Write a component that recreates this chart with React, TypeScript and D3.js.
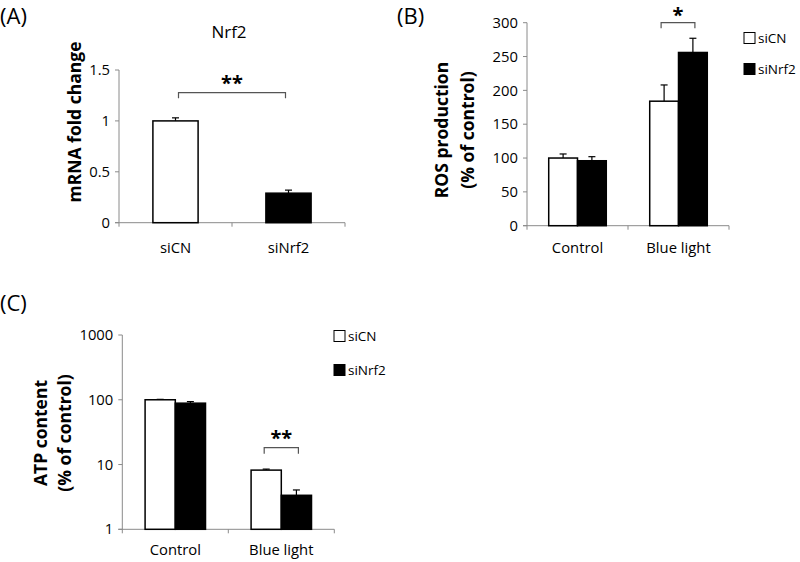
import React from 'react';
import * as d3 from 'd3';

// Panel A data
const A_categories = ['siCN', 'siNrf2'];
const A_values = [1.0, 0.29];
const A_errors = [0.03, 0.03];
const A_ticks = [0, 0.5, 1, 1.5];

// Panel B data
const B_groups = ['Control', 'Blue light'];
const B_series = ['siCN', 'siNrf2'];
const B_siCN = [100, 184];
const B_siNrf2 = [96, 256];
const B_siCN_err = [6, 24];
const B_siNrf2_err = [6, 21];
const B_ticks = [0, 50, 100, 150, 200, 250, 300];

// Panel C data
const C_groups = ['Control', 'Blue light'];
const C_siCN = [100, 8.2];
const C_siNrf2 = [88.6, 3.35];
const C_siCN_err = [1.5, 0.3];
const C_siNrf2_err = [5, 0.7];
const C_ticks = [1, 10, 100, 1000];

const FONT = '"Open Sans", "Noto Sans", sans-serif';
const AXIS = '#8a8a8a';
const fills = ['#ffffff', '#000000'];
const TICK_FS = 14.8;
const CAT_FS = 14.8;
const TITLE_FS = 17.5;

type Bar = { x: number; w: number; v: number; e: number; fill: string };

function Axes({ x0, x1, y, ticks, nCats }: any) {
  const yb = y.range()[0];
  const yt = y.range()[1];
  const step = (x1 - x0) / nCats;
  const cat = d3.range(nCats + 1).map((i) => x0 + i * step);
  return (
    <g>
      <line x1={x0} x2={x0} y1={yb} y2={yt} stroke={AXIS} strokeWidth={1} />
      <line x1={x0 - 4} x2={x1} y1={yb} y2={yb} stroke={AXIS} strokeWidth={1} />
      {ticks.map((t: number, i: number) => (
        <g key={i}>
          <line x1={x0 - 4} x2={x0} y1={y(t)} y2={y(t)} stroke={AXIS} strokeWidth={1} />
          <text x={x0 - 9} y={y(t)} dy="0.35em" textAnchor="end" fontSize={TICK_FS} fontFamily={FONT} fill="#000">
            {t}
          </text>
        </g>
      ))}
      {cat.map((cx, i) => (
        <line key={i} x1={cx} x2={cx} y1={yb} y2={yb + 4} stroke={AXIS} strokeWidth={1} />
      ))}
    </g>
  );
}

function Bars({ bars, y }: { bars: Bar[]; y: any }) {
  const yb = y.range()[0];
  return (
    <g>
      {bars.map((b, i) => {
        const cx = b.x + b.w / 2;
        return (
          <g key={i}>
            <line x1={cx} x2={cx} y1={y(b.v)} y2={y(b.v + b.e)} stroke="#000" strokeWidth={1.2} />
            <line x1={cx - 3.5} x2={cx + 3.5} y1={y(b.v + b.e)} y2={y(b.v + b.e)} stroke="#000" strokeWidth={1.2} />
            <rect x={b.x} y={y(b.v)} width={b.w} height={yb - y(b.v)} fill={b.fill} stroke="#000" strokeWidth={1.5} />
          </g>
        );
      })}
    </g>
  );
}

function Bracket({ xa, xb, yTop, legs, stars, starY }: any) {
  return (
    <g>
      <path d={`M${xa},${yTop + legs}V${yTop}H${xb}V${yTop + legs}`} fill="none" stroke="#555" strokeWidth={1.2} />
      <text x={(xa + xb) / 2} y={starY} textAnchor="middle" fontSize={20} fontWeight="bold" fontFamily={FONT}>
        {stars}
      </text>
    </g>
  );
}

function Legend({ x, y1, y2 }: any) {
  return (
    <g fontFamily={FONT} fontSize={13.5}>
      {B_series.map((s, i) => {
        const yy = i === 0 ? y1 : y2;
        return (
          <g key={s}>
            <rect x={x} y={yy - 5.5} width={11} height={11} fill={fills[i]} stroke="#000" strokeWidth={1} />
            <text x={x + 14} y={yy} dy="0.35em">{s}</text>
          </g>
        );
      })}
    </g>
  );
}

export default function App() {
  // Panel A
  const Ax0 = 119, Ax1 = 345;
  const Ay = d3.scaleLinear().domain([0, 1.5]).range([222.7, 70]);
  const Ax = d3.scaleBand().domain(A_categories).range([Ax0, Ax1]);
  const Abars: Bar[] = A_categories.map((c, i) => {
    const w = Ax.bandwidth() * 0.4;
    return { x: (Ax(c) as number) + (Ax.bandwidth() - w) / 2, w, v: A_values[i], e: A_errors[i], fill: fills[i] };
  });

  // Panel B
  const Bx0 = 527, Bx1 = 729;
  const By = d3.scaleLinear().domain([0, 300]).range([225.7, 22.7]);
  const Bx = d3.scaleBand().domain(B_groups).range([Bx0, Bx1]);
  const Bin = d3.scaleBand().domain(B_series).range([0, Bx.bandwidth() * 0.57]);
  const Bbars: Bar[] = [];
  B_groups.forEach((g, gi) => {
    const off = (Bx(g) as number) + Bx.bandwidth() * 0.215;
    const vals = [B_siCN[gi], B_siNrf2[gi]];
    const errs = [B_siCN_err[gi], B_siNrf2_err[gi]];
    B_series.forEach((s, si) => {
      Bbars.push({ x: off + (Bin(s) as number), w: Bin.bandwidth(), v: vals[si], e: errs[si], fill: fills[si] });
    });
  });

  // Panel C
  const Cx0 = 122.3, Cx1 = 334.3;
  const Cy = d3.scaleLog().domain([1, 1000]).range([529.3, 335]);
  const Cx = d3.scaleBand().domain(C_groups).range([Cx0, Cx1]);
  const Cin = d3.scaleBand().domain(B_series).range([0, Cx.bandwidth() * 0.57]);
  const Cbars: Bar[] = [];
  C_groups.forEach((g, gi) => {
    const off = (Cx(g) as number) + Cx.bandwidth() * 0.215;
    const vals = [C_siCN[gi], C_siNrf2[gi]];
    const errs = [C_siCN_err[gi], C_siNrf2_err[gi]];
    B_series.forEach((s, si) => {
      Cbars.push({ x: off + (Cin(s) as number), w: Cin.bandwidth(), v: vals[si], e: errs[si], fill: fills[si] });
    });
  });

  const catLabel = (x: number, y: number, t: string, k: string) => (
    <text key={k} x={x} y={y} dy="0.35em" textAnchor="middle" fontSize={CAT_FS} fontFamily={FONT}>{t}</text>
  );

  const bCenter = (i: number) => Bbars[2 + i].x + Bbars[2 + i].w / 2;
  const cCenter = (i: number) => Cbars[2 + i].x + Cbars[2 + i].w / 2;

  return (
    <svg width={800} height={562} style={{ position: 'absolute', left: 0, top: 0, background: '#fff' }}>
      <rect width={800} height={562} fill="#fff" />
      {/* Panel labels */}
      <text x={0} y={16} dy="0.35em" fontSize={22} fontFamily={FONT}>(A)</text>
      <text x={397} y={16} dy="0.35em" fontSize={22} fontFamily={FONT}>(B)</text>
      <text x={0} y={303} dy="0.35em" fontSize={22} fontFamily={FONT}>(C)</text>

      {/* Panel A */}
      <text x={229} y={32} dy="0.35em" textAnchor="middle" fontSize={17} fontFamily={FONT}>Nrf2</text>
      <Axes x0={Ax0} x1={Ax1} y={Ay} ticks={A_ticks} nCats={2} />
      <Bars bars={Abars} y={Ay} />
      {A_categories.map((c, i) => catLabel((Ax(c) as number) + Ax.bandwidth() / 2, 248, c, 'a' + i))}
      <text transform={`translate(75,122) rotate(-90)`} dy="0.35em" textAnchor="middle" fontSize={TITLE_FS} fontWeight="bold" fontFamily={FONT}>mRNA fold change</text>
      <Bracket xa={Abars[0].x + Abars[0].w / 2 + 3} xb={Abars[1].x + Abars[1].w / 2 - 3} yTop={92.7} legs={5.5} stars="**" starY={90} />

      {/* Panel B */}
      <Axes x0={Bx0} x1={Bx1} y={By} ticks={B_ticks} nCats={2} />
      <Bars bars={Bbars} y={By} />
      {B_groups.map((g, i) => catLabel((Bx(g) as number) + Bx.bandwidth() / 2, 248, g, 'b' + i))}
      <text transform={`translate(442,130) rotate(-90)`} dy="0.35em" textAnchor="middle" fontSize={TITLE_FS} fontWeight="bold" fontFamily={FONT}>ROS  production</text>
      <text transform={`translate(468,130) rotate(-90)`} dy="0.35em" textAnchor="middle" fontSize={TITLE_FS} fontWeight="bold" fontFamily={FONT}>(% of control)</text>
      <Bracket xa={bCenter(0) - 3} xb={bCenter(1) + 2} yTop={22.7} legs={5.5} stars="*" starY={22} />
      <Legend x={744} y1={38} y2={69} />

      {/* Panel C */}
      <Axes x0={Cx0} x1={Cx1} y={Cy} ticks={C_ticks} nCats={2} />
      <Bars bars={Cbars} y={Cy} />
      {C_groups.map((g, i) => catLabel((Cx(g) as number) + Cx.bandwidth() / 2, 550, g, 'c' + i))}
      <text transform={`translate(41,433) rotate(-90)`} dy="0.35em" textAnchor="middle" fontSize={TITLE_FS} fontWeight="bold" fontFamily={FONT}>ATP content</text>
      <text transform={`translate(65,433) rotate(-90)`} dy="0.35em" textAnchor="middle" fontSize={TITLE_FS} fontWeight="bold" fontFamily={FONT}>(% of control)</text>
      <Bracket xa={cCenter(0) - 2} xb={cCenter(1) + 2} yTop={447.7} legs={6} stars="**" starY={445} />
      <Legend x={334} y1={336} y2={370} />
    </svg>
  );
}
